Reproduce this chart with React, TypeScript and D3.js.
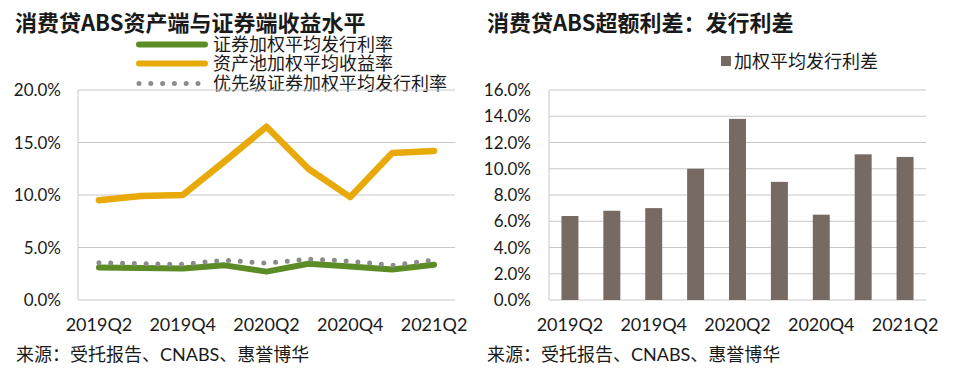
import React from "react";
import * as d3 from "d3";

const quarters = ["2019Q2", "2019Q3", "2019Q4", "2020Q1", "2020Q2", "2020Q3", "2020Q4", "2021Q1", "2021Q2"];
const shownLabels = ["2019Q2", "2019Q4", "2020Q2", "2020Q4", "2021Q2"];
const securityRate = [3.1, 3.05, 3.0, 3.3, 2.7, 3.45, 3.2, 2.9, 3.35];
const poolYield = [9.5, 9.9, 10.0, 13.2, 16.5, 12.5, 9.8, 14.0, 14.2];
const seniorRate = [3.55, 3.45, 3.4, 3.8, 3.5, 3.9, 3.7, 3.3, 3.8];
const spread = [6.4, 6.8, 7.0, 10.0, 13.8, 9.0, 6.5, 11.1, 10.9];
const leftTicks = [0, 5, 10, 15, 20];
const rightTicks = [0, 2, 4, 6, 8, 10, 12, 14, 16];

const FONT = "Lato, 'Noto Sans CJK SC', sans-serif";
const CJK = "'Noto Sans CJK SC', Lato, sans-serif";
const MIX = "Lato, 'Noto Sans CJK SC', sans-serif";
const GREEN = "#5b8c25";
const ORANGE = "#e8a90a";
const DOTS = "#8c8c8c";
const BAR = "#766a62";
const GRID = "#c8c8c8";

export default function App() {
  const top = 90, bottom = 300;
  // left chart
  const lx = d3.scaleBand<string>().domain(quarters).range([78, 455]);
  const ly = d3.scaleLinear().domain([0, 20]).range([bottom, top]);
  const lineGen = (vals: number[]) =>
    d3.line<number>()
      .x((_, i) => (lx(quarters[i]) as number) + lx.bandwidth() / 2)
      .y((v) => ly(v))(vals) as string;

  // right chart
  const rx = d3.scaleBand<string>().domain(quarters).range([549, 926]).paddingInner(0.595).paddingOuter(0.2975);
  const ry = d3.scaleLinear().domain([0, 16]).range([bottom, top]);

  return (
    <svg width={960} height={389} style={{ position: "absolute", left: 0, top: 0, background: "#fff" }}>
      {/* Left chart */}
      <text x={15} y={30.5} fontFamily={CJK} fontWeight="bold" fontSize={22} fill="#1a1a1a">消费贷ABS资产端与证券端收益水平</text>
      {/* legend */}
      <line x1={139} x2={205} y1={44.5} y2={44.5} stroke={GREEN} strokeWidth={6} strokeLinecap="round" />
      <text x={213} y={51} fontFamily={CJK} fontSize={18} fill="#1a1a1a">证券加权平均发行利率</text>
      <line x1={139} x2={205} y1={63.5} y2={63.5} stroke={ORANGE} strokeWidth={6} strokeLinecap="round" />
      <text x={213} y={70} fontFamily={CJK} fontSize={18} fill="#1a1a1a">资产池加权平均收益率</text>
      <line x1={139} x2={203} y1={83.5} y2={83.5} stroke={DOTS} strokeWidth={5} strokeLinecap="round" strokeDasharray="0 11.8" />
      <text x={213} y={90} fontFamily={CJK} fontSize={18} fill="#1a1a1a">优先级证券加权平均发行利率</text>

      {leftTicks.map((t) => (
        <g key={"lt" + t}>
          {t > 0 && <line x1={78} x2={455} y1={ly(t)} y2={ly(t)} stroke={GRID} strokeWidth={1} />}
          <text x={61} y={ly(t) + 6} textAnchor="end" fontFamily={FONT} fontSize={17} fill="#1a1a1a">{t.toFixed(1)}%</text>
        </g>
      ))}
      <line x1={78} x2={78} y1={top} y2={bottom} stroke={GRID} />
      <line x1={78} x2={455} y1={bottom} y2={bottom} stroke={GRID} />
      {shownLabels.map((q) => (
        <text key={"lx" + q} x={(lx(q) as number) + lx.bandwidth() / 2} y={331} textAnchor="middle" fontFamily={FONT} fontSize={18} fill="#1a1a1a">{q}</text>
      ))}
      <path d={lineGen(poolYield)} fill="none" stroke={ORANGE} strokeWidth={6.5} strokeLinejoin="round" strokeLinecap="round" />
      <path d={lineGen(securityRate)} fill="none" stroke={GREEN} strokeWidth={6} strokeLinejoin="round" strokeLinecap="round" />
      <path d={lineGen(seniorRate)} fill="none" stroke={DOTS} strokeWidth={5} strokeLinecap="round" strokeDasharray="0 11.8" />
      <text x={16} y={361} fontFamily={MIX} fontSize={18} fill="#1a1a1a">来源：受托报告、CNABS、惠誉博华</text>

      {/* Right chart */}
      <text x={487} y={30.5} fontFamily={CJK} fontWeight="bold" fontSize={22} fill="#1a1a1a">消费贷ABS超额利差：发行利差</text>
      <rect x={721} y={56} width={10} height={10} fill={BAR} />
      <text x={734} y={67.5} fontFamily={CJK} fontSize={18} fill="#1a1a1a">加权平均发行利差</text>
      {rightTicks.map((t) => (
        <g key={"rt" + t}>
          {t > 0 && <line x1={549} x2={926} y1={ry(t)} y2={ry(t)} stroke={GRID} strokeWidth={1} />}
          <text x={531} y={ry(t) + 6} textAnchor="end" fontFamily={FONT} fontSize={17} fill="#1a1a1a">{t.toFixed(1)}%</text>
        </g>
      ))}
      <line x1={549} x2={549} y1={top} y2={bottom} stroke={GRID} />
      <line x1={549} x2={926} y1={bottom} y2={bottom} stroke={GRID} />
      {spread.map((v, i) => (
        <rect key={"b" + i} x={rx(quarters[i]) as number} y={ry(v)} width={rx.bandwidth()} height={bottom - ry(v)} fill={BAR} />
      ))}
      {shownLabels.map((q) => (
        <text key={"rx" + q} x={(rx(q) as number) + rx.bandwidth() / 2} y={331} textAnchor="middle" fontFamily={FONT} fontSize={18} fill="#1a1a1a">{q}</text>
      ))}
      <text x={487} y={361} fontFamily={MIX} fontSize={18} fill="#1a1a1a">来源：受托报告、CNABS、惠誉博华</text>
    </svg>
  );
}
